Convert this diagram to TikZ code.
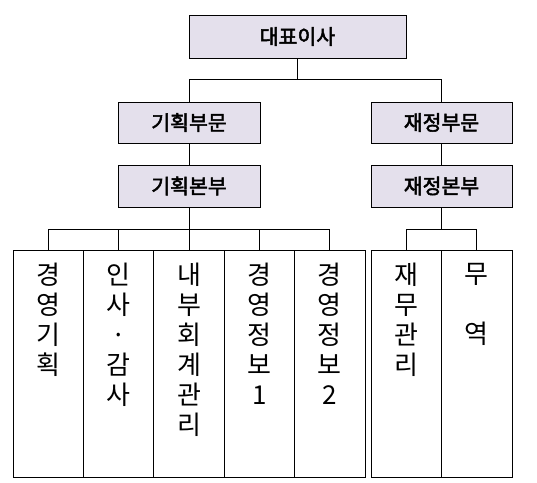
\documentclass[tikz,border=0pt]{standalone}
\usepackage{fontspec}
\setmainfont{Noto Sans CJK KR}
\newfontfamily\headfont[FakeBold=2.4]{Noto Sans CJK KR}
\definecolor{boxfill}{HTML}{E4E0EC}
\tikzset{global scale/.style={
    	x=#1pt, y=-#1pt,
    	every node/.append style={scale=#1}
  	},
	headbox/.style={draw, fill=boxfill, line width=0.8pt, inner sep=0pt,
		font=\headfont\fontsize{20.5}{22}\selectfont},
	unitbox/.style={draw, line width=0.8pt, minimum width=70.4pt, minimum height=227pt, inner sep=0pt},
	unittext/.style={anchor=north, align=center, inner sep=0pt,
		font=\fontsize{26}{30}\selectfont}
}

\begin{document}
\begin{tikzpicture}[global scale = 1, line width=0.8pt]
		\useasboundingbox (0,0) rectangle (537,482);
		% head boxes
		\node [headbox, minimum width=217pt, minimum height=43pt] (ceo) at (297.5,36.5) {대표이사};
		\node [headbox, minimum width=142pt, minimum height=41pt] (plan) at (189,122.5) {기획부문};
		\node [headbox, minimum width=141pt, minimum height=41pt] (fin) at (441.5,122.5) {재정부문};
		\node [headbox, minimum width=142pt, minimum height=42pt] (planhq) at (189,186) {기획본부};
		\node [headbox, minimum width=141pt, minimum height=42pt] (finhq) at (441.5,186) {재정본부};
		% unit columns
		\foreach \i/\x/\t in {1/48.2/{경\\영\\기\\획}, 2/118.6/{인\\사\\·\\감\\사},
				3/189/{내\\부\\회\\계\\관\\리}, 4/259.4/{경\\영\\정\\보\\1}, 5/329.8/{경\\영\\정\\보\\2}}{
			\node [unitbox] (c\i) at (\x,363.5) {};
			\node [unittext] at ([yshift=-13pt]c\i.north) {\t};
		}
		\foreach \i/\x/\t in {6/406.2/{재\\무\\관\\리}, 7/476.8/{무\\~\\역}}{
			\node [unitbox, minimum width=70.6pt] (c\i) at (\x,363.5) {};
			\node [unittext] at ([yshift=-13pt]c\i.north) {\t};
		}
		% connectors
		\coordinate (j1) at (0,79);
		\coordinate (j2) at (0,229);
		\draw (ceo.south) -- (ceo.south |- j1);
		\draw (plan.north) -- (plan.north |- j1) -- (fin.north |- j1) -- (fin.north);
		\draw (plan) -- (planhq);
		\draw (fin) -- (finhq);
		\draw (planhq.south) -- (planhq.south |- j2);
		\draw (finhq.south) -- (finhq.south |- j2);
		\draw (c1.north |- j2) -- (c5.north |- j2);
		\draw (c6.north |- j2) -- (c7.north |- j2);
		\foreach \i in {1,...,7}
			\draw (c\i.north) -- (c\i.north |- j2);
	\end{tikzpicture}
\end{document}
